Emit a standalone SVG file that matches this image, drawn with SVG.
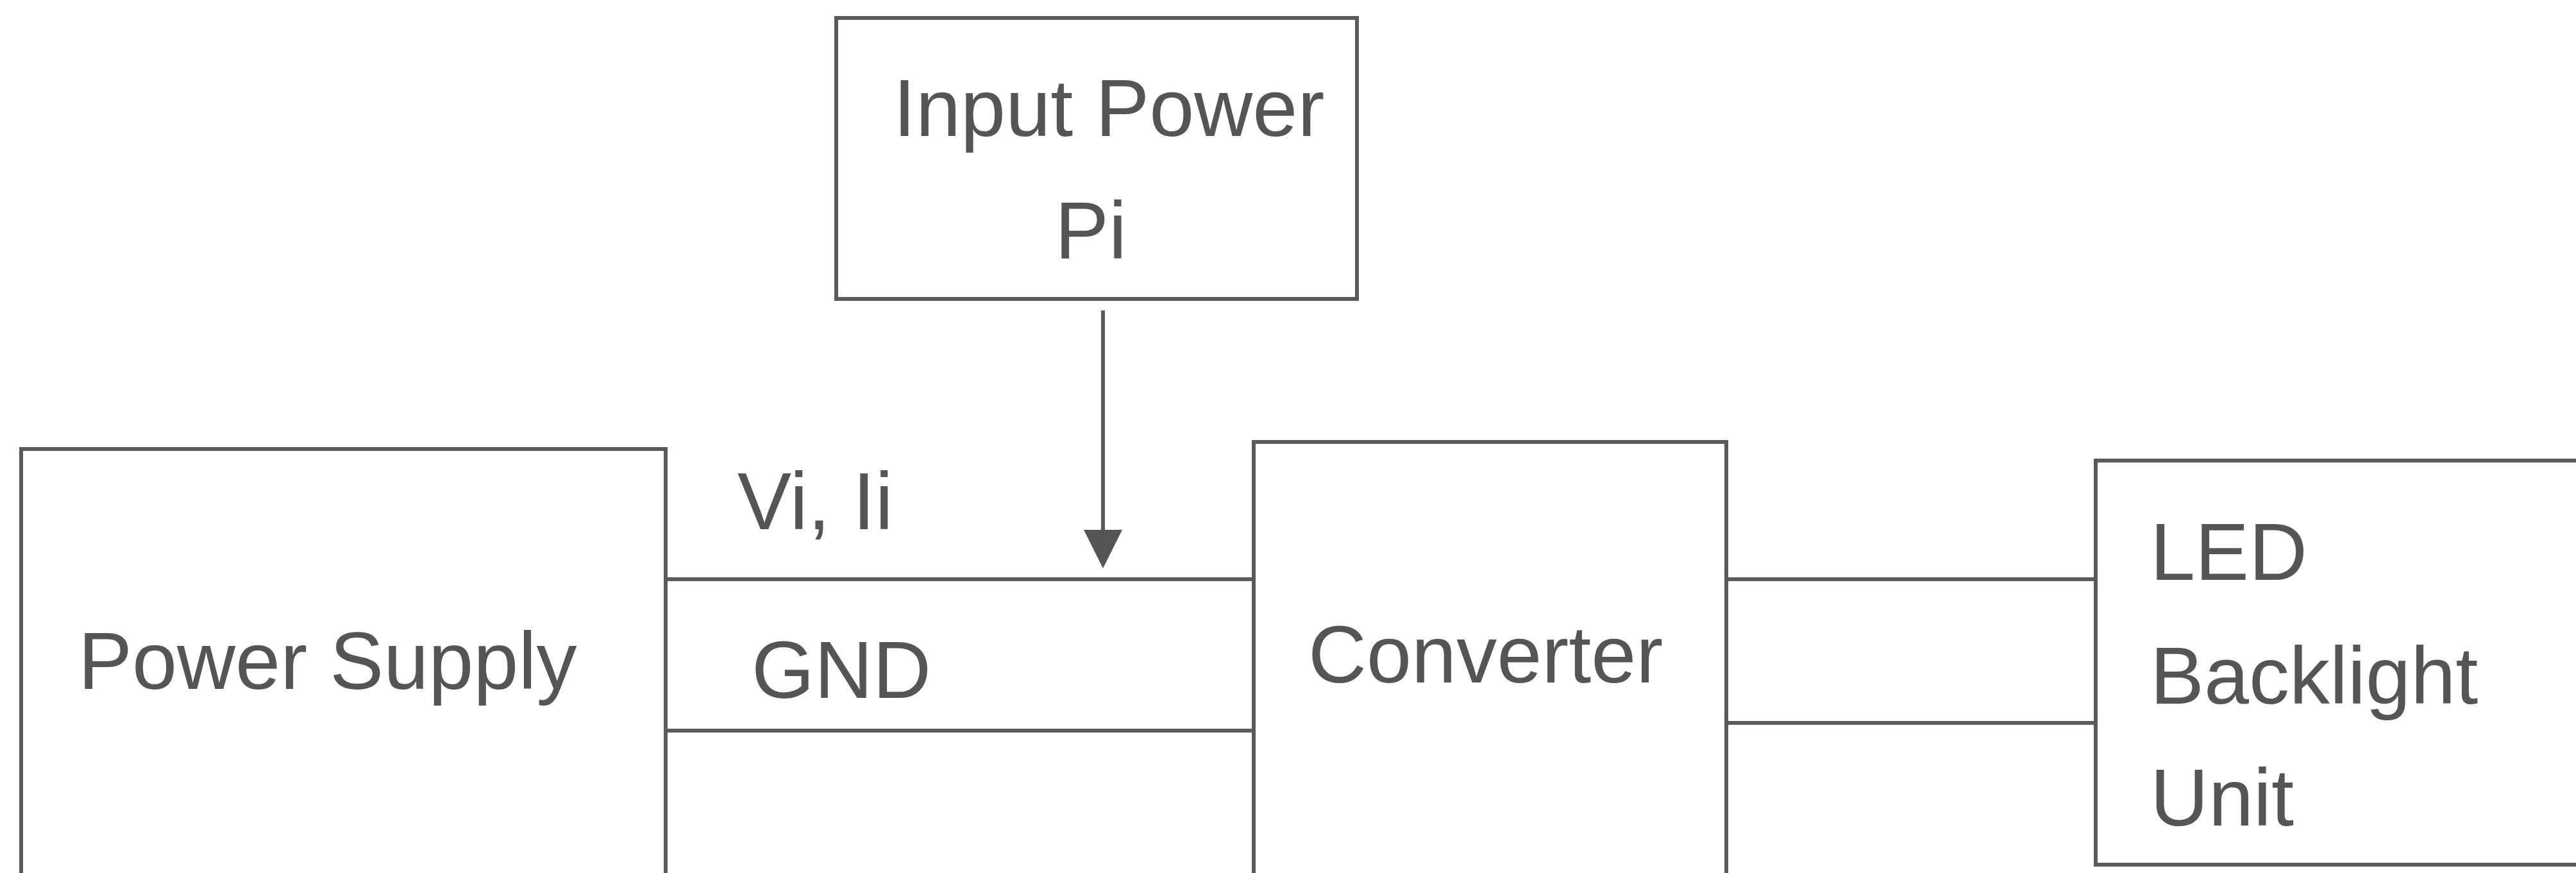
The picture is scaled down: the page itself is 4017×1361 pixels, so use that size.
<svg xmlns="http://www.w3.org/2000/svg" width="4017" height="1361" viewBox="0 0 4017 1361">
<style>
.box{fill:none;stroke:#5a5a5a;stroke-width:6}
.ln{fill:none;stroke:#5a5a5a;stroke-width:6}
.t{font-family:"Liberation Sans",Arial,sans-serif;font-size:126px;fill:#555}
</style>
<defs>
<marker id="ah" markerUnits="userSpaceOnUse" markerWidth="64" markerHeight="64" viewBox="0 0 64 64" refX="4" refY="32" orient="auto">
<path d="M0,2 L60,32 L0,62 Z" fill="#555"/>
</marker>
</defs>
<rect width="4017" height="1361" fill="#fff"/>
<g id="input-power">
<rect class="box" x="1304" y="28" width="812" height="438"/>
<text class="t" x="1393" y="212">Input Power</text>
<text class="t" x="1645" y="403">Pi</text>
</g>
<g id="power-supply">
<rect class="box" x="33" y="700" width="1005" height="720"/>
<text class="t" x="122" y="1074">Power Supply</text>
</g>
<g id="converter">
<rect class="box" x="1955" y="689" width="737" height="730"/>
<text class="t" x="2040" y="1064">Converter</text>
</g>
<g id="led-backlight">
<rect class="box" x="3268" y="718" width="800" height="630"/>
<text class="t" x="3353" y="904">LED</text>
<text class="t" x="3353" y="1097">Backlight</text>
<text class="t" x="3353" y="1287">Unit</text>
</g>
<g id="connectors">
<line class="ln" x1="1720" y1="484" x2="1720" y2="830" marker-end="url(#ah)"/>
<line class="ln" x1="1038" y1="903" x2="1955" y2="903"/>
<line class="ln" x1="1038" y1="1139" x2="1955" y2="1139"/>
<line class="ln" x1="2692" y1="903" x2="3268" y2="903"/>
<line class="ln" x1="2692" y1="1127" x2="3268" y2="1127"/>
<text class="t" x="1150" y="825">Vi, Ii</text>
<text class="t" x="1172" y="1088">GND</text>
</g>
</svg>
